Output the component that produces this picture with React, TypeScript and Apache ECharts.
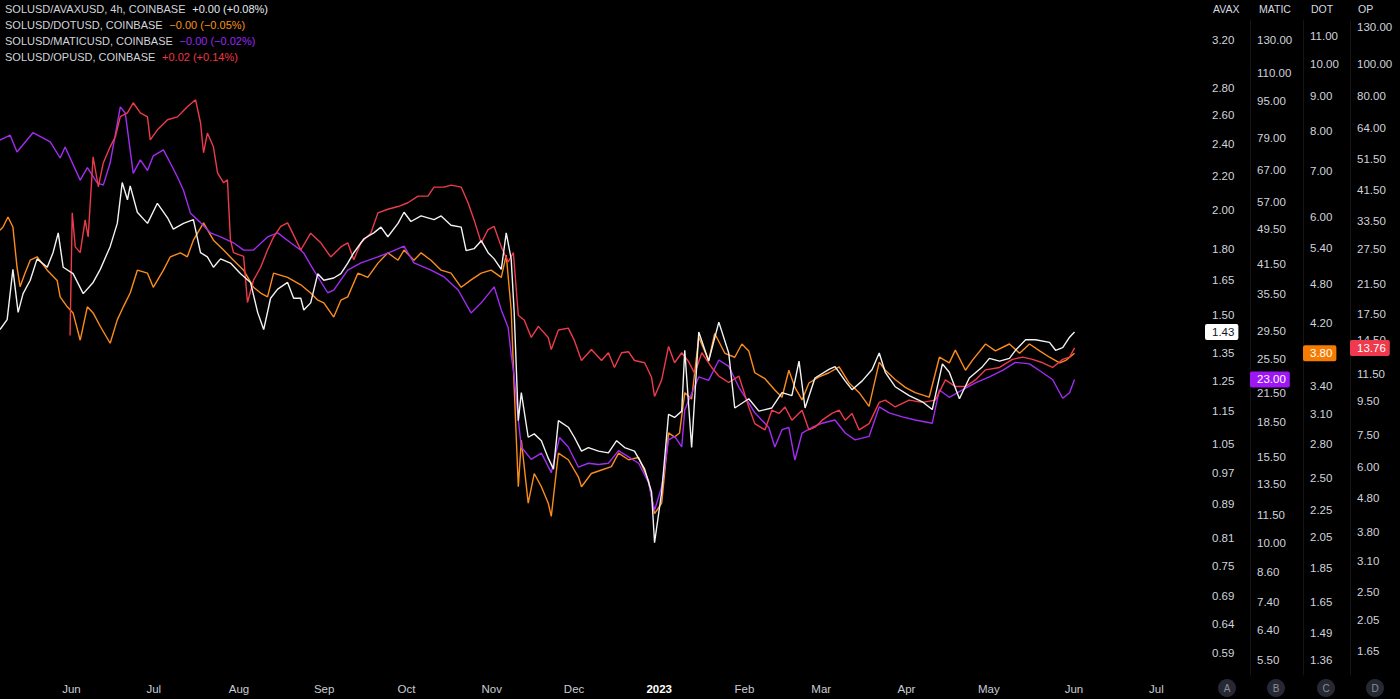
import React, { useEffect, useRef } from 'react';
import * as echarts from 'echarts';

const START = Date.UTC(2022, 4, 6);
const DAY = 86400000;
const X_SPAN_DAYS = 438.7;
const FONT = '"Liberation Sans", Arial, Helvetica, sans-serif';
const MONTHS = ['Jan', 'Feb', 'Mar', 'Apr', 'May', 'Jun', 'Jul', 'Aug', 'Sep', 'Oct', 'Nov', 'Dec'];

// ---- AVAX (SOL/AVAX) ----
const avaxDays = [
  0, 2.6, 4.7, 6.6, 8.4, 11.0, 13.5, 17.2, 19.3, 21.2,
  23.0, 26.6, 30.3, 33.9, 36.5, 40.1, 42.7, 44.5, 46.4, 47.4,
  50.0, 53.7, 57.3, 61.0, 63.1, 66.8, 70.4, 73.0, 75.5, 77.7,
  80.3, 83.9, 87.6, 91.2, 93.8, 96.0, 98.5, 101.1, 104.7, 106.9,
  109.5, 110.6, 113.1, 115.7, 117.9, 121.5, 124.1, 126.6, 128.8, 132.5,
  136.1, 138.7, 141.2, 144.9, 147.1, 149.6, 153.3, 158.0, 160.6, 164.2,
  167.9, 169.7, 172.6, 175.2, 177.7, 179.9, 182.5, 184.3, 186.1, 187.2,
  188.7, 189.8, 192.3, 194.5, 197.1, 199.6, 201.5, 203.3, 206.9, 209.1,
  211.7, 214.2, 217.9, 221.5, 224.5, 227.4, 231.0, 234.7, 237.2, 238.3,
  240.9, 243.4, 245.6, 248.2, 249.3, 251.8, 254.4, 258.0, 261.7, 265.3,
  267.5, 272.6, 276.3, 281.0, 284.7, 288.3, 290.9, 293.1, 296.7, 301.8,
  304.0, 307.7, 310.2, 313.9, 317.5, 320.1, 322.3, 325.9, 331.0, 335.8,
  339.4, 343.1, 345.6, 349.3, 352.9, 357.7, 360.2, 363.9, 367.5, 369.7,
  373.4, 377.0, 382.1, 384.3, 386.9, 389.4, 391.2,
];
const avaxValues = [
  1.44, 1.48, 1.70, 1.51, 1.59, 1.65, 1.75, 1.71, 1.78, 1.88,
  1.71, 1.68, 1.59, 1.64, 1.70, 1.81, 1.93, 2.16, 2.06, 2.14,
  1.99, 1.93, 2.04, 1.96, 1.90, 1.93, 1.95, 1.78, 1.76, 1.71,
  1.75, 1.73, 1.68, 1.64, 1.51, 1.44, 1.57, 1.61, 1.64, 1.57,
  1.57, 1.52, 1.55, 1.68, 1.65, 1.66, 1.68, 1.73, 1.78, 1.85,
  1.88, 1.91, 1.86, 1.93, 1.99, 1.94, 1.97, 1.95, 1.97, 1.92,
  1.91, 1.79, 1.80, 1.84, 1.78, 1.75, 1.70, 1.88, 1.75, 1.51,
  1.12, 1.21, 1.07, 1.08, 1.06, 1.01, 0.98, 1.12, 1.10, 1.07,
  1.03, 1.04, 1.03, 1.025, 1.06, 1.04, 1.03, 0.98, 0.92, 0.80,
  0.92, 1.14, 1.13, 1.15, 1.36, 1.04, 1.43, 1.32, 1.47, 1.35,
  1.16, 1.19, 1.15, 1.16, 1.21, 1.20, 1.32, 1.16, 1.26, 1.29,
  1.30, 1.25, 1.22, 1.25, 1.29, 1.35, 1.28, 1.23, 1.20, 1.18,
  1.155, 1.31, 1.28, 1.19, 1.26, 1.30, 1.33, 1.32, 1.33, 1.36,
  1.40, 1.40, 1.39, 1.36, 1.37, 1.41, 1.43,
];

// ---- MATIC (SOL/MATIC) ----
const maticDays = [
  0, 3.7, 6.2, 12.0, 18.3, 21.9, 23.7, 29.2, 31.8, 35.4,
  37.6, 40.1, 43.8, 45.6, 48.5, 51.1, 53.7, 55.8, 59.5, 62.0,
  64.6, 66.8, 69.3, 73.0, 76.6, 80.3, 85.0, 88.7, 92.3, 97.4,
  101.1, 105.8, 109.5, 110.6, 114.2, 119.3, 121.5, 126.6, 131.4, 137.6,
  142.3, 147.1, 150.7, 156.9, 161.7, 166.8, 171.5, 175.2, 179.9, 182.5,
  185.0, 186.1, 187.2, 188.7, 189.8, 193.4, 197.1, 200.7, 203.7, 206.9,
  210.6, 214.2, 217.9, 221.5, 225.2, 228.8, 232.5, 236.1, 238.3, 240.9,
  243.4, 245.6, 248.2, 249.3, 254.4, 258.0, 261.7, 265.3, 269.0, 272.6,
  274.8, 279.9, 282.1, 284.7, 287.2, 289.4, 292.0, 295.6, 299.3, 304.0,
  307.7, 311.3, 316.4, 320.1, 323.7, 328.5, 333.2, 339.4, 342.0, 345.6,
  350.4, 355.1, 360.2, 365.0, 369.7, 374.8, 379.6, 383.2, 386.9, 389.4,
  391.2,
];
const maticValues = [
  78, 80, 73.4, 81, 77.3, 71.2, 75.3, 63.6, 67.8, 62.7,
  62.0, 69.4, 92.4, 89.6, 65.8, 70.5, 66.8, 72.0, 74.2, 69.4,
  64.6, 60.4, 53.8, 51.2, 48.6, 47.6, 46.2, 44.5, 44.5, 47.6,
  48.6, 46.2, 44.5, 43.8, 40.2, 35.8, 36.3, 40.2, 41.7, 43.0,
  44.1, 45.4, 41.7, 40.2, 38.8, 36.3, 32.3, 34.0, 36.9, 32.8,
  30.0, 26.1, 23.4, 18.7, 16.3, 15.3, 15.8, 14.3, 17.1, 16.3,
  14.7, 15.0, 14.9, 15.0, 16.0, 15.5, 15.0, 13.6, 11.8, 13.3,
  16.9, 17.2, 16.3, 19.7, 23.3, 22.9, 25.4, 24.6, 22.1, 20.4,
  19.4, 18.0, 16.3, 17.8, 18.0, 15.25, 17.5, 18.0, 18.4, 18.7,
  17.5, 16.9, 17.2, 20.0, 19.4, 19.0, 18.7, 18.4, 21.8, 21.0,
  21.8, 22.6, 23.3, 24.1, 25.1, 24.9, 23.8, 23.0, 20.9, 21.5,
  23.0,
];

// ---- DOT (SOL/DOT) ----
const dotDays = [
  0, 1.1, 2.9, 4.7, 6.2, 7.3, 9.1, 11.0, 13.5, 17.2,
  20.8, 21.9, 24.5, 26.6, 29.2, 31.8, 33.9, 36.5, 40.1, 42.7,
  44.9, 47.4, 50.0, 53.7, 55.8, 59.5, 62.0, 65.7, 68.2, 70.4,
  74.1, 77.7, 81.4, 85.0, 88.7, 92.3, 94.9, 97.4, 99.6, 104.7,
  109.5, 113.1, 115.7, 117.9, 121.5, 124.1, 126.6, 130.3, 133.9, 137.6,
  141.2, 144.9, 147.1, 150.7, 153.3, 156.9, 160.6, 164.2, 167.9, 171.5,
  175.2, 178.8, 182.5, 184.3, 186.1, 187.2, 188.7, 189.8, 192.3, 194.5,
  197.1, 199.6, 200.7, 203.3, 206.9, 210.6, 211.7, 215.3, 219.0, 222.6,
  225.2, 228.8, 232.5, 236.1, 238.3, 240.9, 243.4, 245.6, 247.4, 249.3,
  251.8, 254.4, 258.0, 260.2, 263.9, 267.5, 270.1, 272.6, 274.8, 278.5,
  282.1, 284.7, 287.2, 289.4, 292.0, 294.5, 298.2, 301.8, 305.5, 309.1,
  312.8, 316.4, 320.1, 322.3, 325.9, 329.6, 333.2, 338.3, 342.0, 345.6,
  347.8, 351.5, 354.0, 358.8, 362.4, 367.5, 371.2, 374.8, 378.5, 382.1,
  385.8, 388.0, 391.2,
];
const dotValues = [
  5.74, 5.8, 6.0, 5.8, 5.07, 4.75, 4.97, 5.19, 5.25, 5.02,
  4.85, 4.59, 4.44, 4.35, 3.97, 4.44, 4.35, 4.16, 3.93, 4.25,
  4.44, 4.65, 5.02, 4.97, 4.74, 5.02, 5.25, 5.32, 5.25, 5.55,
  5.88, 5.55, 5.37, 5.19, 5.02, 4.74, 4.65, 4.59, 4.97, 4.90,
  4.78, 4.65, 4.54, 4.50, 4.29, 4.54, 4.59, 4.97, 4.90, 5.14,
  5.32, 5.19, 5.37, 5.19, 5.32, 5.19, 5.02, 4.97, 4.74, 4.86,
  4.97, 5.02, 4.90, 5.28, 4.40, 3.39, 2.43, 2.84, 2.30, 2.54,
  2.43, 2.30, 2.20, 2.72, 2.66, 2.51, 2.43, 2.54, 2.57, 2.60,
  2.72, 2.66, 2.68, 2.48, 2.22, 2.30, 2.91, 2.87, 2.91, 3.33,
  3.26, 4.01, 3.71, 4.06, 3.80, 3.75, 3.92, 3.83, 3.56, 3.49,
  3.36, 3.28, 3.59, 3.39, 3.25, 3.44, 3.51, 3.56, 3.63, 3.44,
  3.33, 3.18, 3.69, 3.59, 3.48, 3.39, 3.33, 3.28, 3.75, 3.68,
  3.84, 3.59, 3.71, 3.92, 3.83, 3.92, 3.80, 3.92, 3.83, 3.75,
  3.68, 3.71, 3.80,
];

// ---- OP (SOL/OP) ----
const opDays = [
  25.5, 26.3, 27.4, 29.2, 31.0, 32.1, 33.9, 35.8, 37.6, 40.1,
  42.0, 43.8, 46.4, 48.5, 51.1, 53.7, 54.7, 57.3, 61.0, 64.6,
  68.2, 71.2, 73.0, 74.1, 75.5, 77.7, 79.2, 81.4, 82.8, 83.9,
  85.0, 88.7, 90.1, 92.3, 94.9, 97.4, 99.6, 102.2, 104.7, 106.9,
  109.5, 113.1, 116.8, 120.4, 124.1, 126.6, 128.8, 131.4, 135.0, 137.6,
  141.2, 144.9, 148.5, 152.2, 155.8, 158.0, 161.7, 164.2, 167.9, 170.4,
  172.6, 175.2, 177.7, 179.9, 182.5, 185.0, 186.9, 188.7, 190.9, 193.4,
  196.0, 199.6, 200.7, 203.3, 206.9, 209.1, 211.7, 215.3, 219.0, 221.5,
  223.7, 226.3, 228.8, 231.0, 234.7, 237.2, 238.3, 240.9, 243.4, 245.6,
  248.2, 250.7, 252.9, 255.5, 259.1, 261.7, 265.3, 269.0, 272.6, 274.8,
  278.5, 281.0, 283.6, 285.8, 288.3, 292.0, 294.5, 296.7, 299.3, 302.9,
  305.5, 307.7, 310.2, 312.8, 316.4, 320.1, 322.3, 325.9, 331.0, 335.8,
  340.5, 344.2, 347.8, 351.5, 355.1, 358.8, 363.9, 368.6, 372.3, 375.9,
  379.6, 383.2, 386.9, 389.4, 391.2,
];
const opValues = [
  15.0, 35.4, 27.9, 26.8, 33.7, 29.9, 52.4, 42.5, 50.2, 56.2,
  60.3, 69.4, 71.3, 76.5, 71.3, 69.3, 59, 63.3, 67.9, 69.3,
  74.4, 78.1, 66.5, 53.9, 61.9, 56.2, 46.8, 43.7, 44.6, 29.3,
  26.8, 26.1, 18.9, 22.1, 24.2, 27.3, 29.9, 32.2, 33.0, 30.3,
  27.3, 30.7, 28.7, 26.0, 27.9, 28.7, 25.5, 28.7, 30.7, 35.4,
  36.3, 37.0, 38.0, 39.8, 39.8, 42.4, 42.4, 43.0, 42.4, 38.0,
  33.7, 28.7, 31.5, 32.2, 27.9, 25.1, 26.8, 17.3, 16.7, 14.8,
  16.0, 14.8, 13.6, 15.6, 15.8, 14.5, 12.6, 13.6, 12.6, 13.3,
  12.0, 13.3, 13.4, 12.6, 12.4, 11.2, 9.8, 11.0, 13.9, 12.4,
  13.3, 12.5, 11.5, 13.3, 12.0, 11.3, 10.8, 11.3, 9.1, 8.1,
  7.75, 8.9, 8.7, 9.1, 8.3, 8.9, 7.75, 7.9, 8.3, 8.7,
  8.9, 8.3, 8.7, 7.75, 8.1, 9.4, 9.55, 9.1, 9.55, 9.4,
  9.55, 11.0, 10.5, 10.5, 11.0, 11.8, 12.0, 12.7, 12.9, 12.7,
  12.4, 12.0, 12.7, 12.9, 13.76,
];

// ---- Axis tick labels ----
const avaxTicks = [3.2, 2.8, 2.6, 2.4, 2.2, 2.0, 1.8, 1.65, 1.5, 1.35, 1.25, 1.15, 1.05, 0.97, 0.89, 0.81, 0.75, 0.69, 0.64, 0.59];
const maticTicks = [130, 110, 95, 79, 67, 57, 49.5, 41.5, 35.5, 29.5, 25.5, 21.5, 18.5, 15.5, 13.5, 11.5, 10, 8.6, 7.4, 6.4, 5.5];
const dotTicks = [11, 10, 9, 8, 7, 6, 5.4, 4.8, 4.2, 3.4, 3.1, 2.8, 2.5, 2.25, 2.05, 1.85, 1.65, 1.49, 1.36];
const opTicks = [130, 100, 80, 64, 51.5, 41.5, 33.5, 27.5, 21.5, 17.5, 14.5, 11.5, 9.5, 7.5, 6.0, 4.8, 3.8, 3.1, 2.5, 2.05, 1.65];

// ---- Last values ----
const avaxLast = 1.43;
const maticLast = 23.0;
const dotLast = 3.8;
const opLast = 13.76;

const legendLabels = ['SOLUSD/AVAXUSD, 4h, COINBASE', 'SOLUSD/DOTUSD, COINBASE', 'SOLUSD/MATICUSD, COINBASE', 'SOLUSD/OPUSD, COINBASE'];
const legendChanges = ['+0.00 (+0.08%)', '\u22120.00 (\u22120.05%)', '\u22120.00 (\u22120.02%)', '+0.02 (+0.14%)'];
const scaleLetters = ['A', 'B', 'C', 'D'];

const C_AVAX = '#f2f2f2';
const C_DOT = '#fb8c1c';
const C_MATIC = '#a22cf2';
const C_OP = '#ec3b4b';

function buildSeries(days: number[], values: number[]) {
  const n = Math.min(days.length, values.length);
  const out: [number, number][] = [];
  for (let i = 0; i < n; i++) out.push([START + days[i] * DAY, values[i]]);
  return out;
}

function makeYAxis(cfg: any) {
  return {
    type: 'log',
    position: 'right',
    offset: cfg.offset,
    min: cfg.min,
    max: cfg.max,
    name: cfg.name,
    nameLocation: 'end',
    nameGap: 11,
    nameTextStyle: {
      color: '#d6d9e0',
      fontSize: 10.5,
      fontFamily: FONT,
      align: 'left',
      verticalAlign: 'middle',
      padding: [0, 0, 0, cfg.namePad],
    },
    axisLine: { show: cfg.sep, onZero: false, lineStyle: { color: '#141414', width: 1 } },
    axisTick: { show: false },
    splitLine: { show: false },
    axisLabel: {
      show: true,
      customValues: cfg.ticks,
      color: '#d1d4dc',
      fontSize: 11.5,
      fontFamily: FONT,
      margin: 7,
      align: 'left',
      formatter: (v: number) => Number(v).toFixed(2),
    },
    axisPointer: {
      show: true,
      type: 'line',
      status: 'show',
      value: cfg.last,
      snap: false,
      triggerTooltip: false,
      lineStyle: { color: 'rgba(0,0,0,0)', width: 0 },
      label: {
        show: true,
        margin: 0,
        formatter: (p: any) => Number(p.value).toFixed(2),
        backgroundColor: cfg.boxBg,
        color: cfg.boxFg,
        fontSize: 11.5,
        fontFamily: FONT,
        padding: [2, 4, 2, 7],
        borderRadius: 2,
      },
    },
  };
}

export default function App() {
  const ref = useRef<HTMLDivElement>(null);

  useEffect(() => {
    if (!ref.current) return;
    document.body.style.margin = '0';
    document.body.style.background = '#000';
    const chart = echarts.init(ref.current, undefined, { renderer: 'svg' });

    const legendColors = ['#e6e8ee', '#f7931a', '#9c27f5', '#f23645'];
    const circleX = [1227, 1276, 1326, 1375];

    const graphic: any[] = [];
    legendLabels.forEach((label, i) => {
      graphic.push({
        type: 'text',
        x: 5,
        y: 9 + i * 16,
        style: {
          text: `{n|${label}}  {c|${legendChanges[i]}}`,
          verticalAlign: 'middle',
          rich: {
            n: { fill: '#d1d4dc', fontSize: 11, fontFamily: FONT },
            c: { fill: legendColors[i], fontSize: 11, fontFamily: FONT },
          },
        },
      });
    });
    scaleLetters.forEach((l, i) => {
      graphic.push({
        type: 'circle',
        shape: { cx: circleX[i], cy: 688, r: 9 },
        style: { fill: '#262933' },
      });
      graphic.push({
        type: 'text',
        x: circleX[i],
        y: 688,
        style: { text: l, fill: '#8a8e99', fontSize: 10, fontFamily: FONT, align: 'center', verticalAlign: 'middle' },
      });
    });

    const option: any = {
      animation: false,
      useUTC: true,
      backgroundColor: '#000000',
      textStyle: { fontFamily: FONT },
      grid: { left: 0, right: 195, top: 20, bottom: 24, containLabel: false, outerBoundsMode: 'none' },
      xAxis: {
        type: 'time',
        min: START,
        max: START + X_SPAN_DAYS * DAY,
        splitNumber: 15,
        axisLine: { show: false, onZero: false },
        axisTick: { show: false },
        splitLine: { show: false },
        axisLabel: {
          color: '#c9ccd4',
          fontSize: 11.5,
          fontFamily: FONT,
          margin: 8,
          hideOverlap: false,
          formatter: (val: number) => {
            const d = new Date(val);
            const m = d.getUTCMonth();
            if (m === 0) return `{y|${d.getUTCFullYear()}}`;
            return MONTHS[m];
          },
          rich: { y: { fontWeight: 'bold', color: '#ffffff', fontSize: 11.5, fontFamily: FONT } },
        },
      },
      yAxis: [
        makeYAxis({ name: 'AVAX', offset: 0, min: 0.5554, max: 3.382, ticks: avaxTicks, last: avaxLast, boxBg: '#ffffff', boxFg: '#131722', sep: false, namePad: 8 }),
        makeYAxis({ name: 'MATIC', offset: 45, min: 5.092, max: 143.96, ticks: maticTicks, last: maticLast, boxBg: '#9f16f5', boxFg: '#ffffff', sep: true, namePad: 9 }),
        makeYAxis({ name: 'DOT', offset: 98, min: 1.2933, max: 11.606, ticks: dotTicks, last: dotLast, boxBg: '#f57c00', boxFg: '#ffffff', sep: true, namePad: 8 }),
        makeYAxis({ name: 'OP', offset: 145, min: 1.395, max: 136.5, ticks: opTicks, last: opLast, boxBg: '#ee3a4c', boxFg: '#ffffff', sep: true, namePad: 8 }),
      ],
      series: [
        { name: 'SOLUSD/AVAXUSD', type: 'line', yAxisIndex: 0, data: buildSeries(avaxDays, avaxValues), showSymbol: false, lineStyle: { color: C_AVAX, width: 1.4 }, itemStyle: { color: C_AVAX }, z: 5 },
        { name: 'SOLUSD/DOTUSD', type: 'line', yAxisIndex: 2, data: buildSeries(dotDays, dotValues), showSymbol: false, lineStyle: { color: C_DOT, width: 1.4 }, itemStyle: { color: C_DOT }, z: 3 },
        { name: 'SOLUSD/MATICUSD', type: 'line', yAxisIndex: 1, data: buildSeries(maticDays, maticValues), showSymbol: false, lineStyle: { color: C_MATIC, width: 1.4 }, itemStyle: { color: C_MATIC }, z: 3 },
        { name: 'SOLUSD/OPUSD', type: 'line', yAxisIndex: 3, data: buildSeries(opDays, opValues), showSymbol: false, lineStyle: { color: C_OP, width: 1.4 }, itemStyle: { color: C_OP }, z: 3 },
      ],
      graphic,
    };

    chart.setOption(option);
    return () => {
      chart.dispose();
    };
  }, []);

  return <div ref={ref} style={{ position: 'absolute', left: 0, top: 0, width: 1400, height: 699, background: '#000' }} />;
}
